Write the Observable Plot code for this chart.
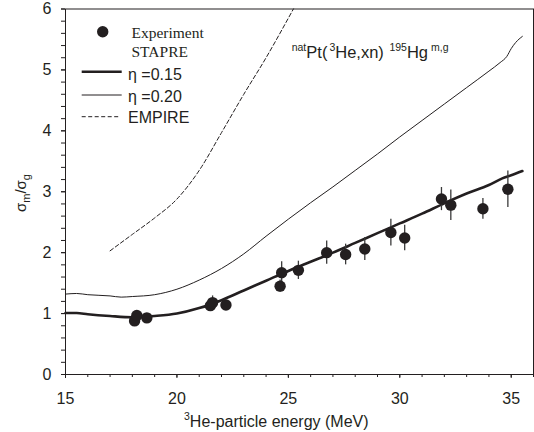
<!DOCTYPE html>
<html>
<head>
<meta charset="utf-8">
<script src="https://cdn.jsdelivr.net/npm/d3@7"></script>
<script src="https://cdn.jsdelivr.net/npm/@observablehq/plot@0.6"></script>
<style>
  html, body { margin: 0; padding: 0; background: white; }
</style>
</head>
<body>
<div id="chart"></div>
<script>
// Experimental points
const expEnergy = [18.1, 18.2, 18.65, 21.5, 21.6, 22.2, 24.63, 24.7, 25.45, 26.72, 27.57, 28.43, 29.6, 30.22, 31.87, 32.29, 33.73, 34.85];
const expRatio  = [0.88, 0.97, 0.93, 1.13, 1.18, 1.14, 1.45, 1.67, 1.71, 2.0, 1.97, 2.06, 2.33, 2.24, 2.88, 2.78, 2.72, 3.04];
const expError  = [0.05, 0.05, 0.04, 0.07, 0.11, 0.08, 0.1, 0.18, 0.15, 0.19, 0.17, 0.19, 0.22, 0.21, 0.19, 0.25, 0.17, 0.3];

// STAPRE eta = 0.15 (thick)
const stapre15E = [15, 15.5, 16, 17, 18, 19, 20, 21, 22, 23, 24, 25, 26, 27, 28, 29, 30, 31, 32, 33, 34, 34.6, 35, 35.5];
const stapre15R = [1.01, 1.01, 0.99, 0.96, 0.94, 0.96, 1.0, 1.09, 1.22, 1.38, 1.54, 1.70, 1.85, 2.0, 2.16, 2.32, 2.48, 2.64, 2.81, 2.97, 3.11, 3.22, 3.27, 3.34];

// STAPRE eta = 0.20 (thin)
const stapre20E = [15, 15.5, 16, 17, 17.5, 18, 19, 20, 21, 22, 23, 24, 25, 26, 27, 28, 29, 30, 31, 32, 33, 34, 34.5, 34.8, 35, 35.2, 35.5];
const stapre20R = [1.32, 1.33, 1.31, 1.29, 1.27, 1.28, 1.31, 1.40, 1.55, 1.74, 1.98, 2.27, 2.55, 2.82, 3.08, 3.35, 3.62, 3.90, 4.17, 4.44, 4.71, 4.98, 5.12, 5.22, 5.35, 5.45, 5.55];

// EMPIRE (dashed)
const empireE = [17, 18, 19, 20, 21, 22, 23, 24, 25, 25.3];
const empireR = [2.03, 2.30, 2.57, 2.88, 3.35, 3.97, 4.60, 5.20, 5.85, 6.05];

// Ticks
const xTicks = [15, 20, 25, 30, 35];
const xMinorTicks = [15, 16, 17, 18, 19, 20, 21, 22, 23, 24, 25, 26, 27, 28, 29, 30, 31, 32, 33, 34, 35, 36];
const yTicks = [0, 1, 2, 3, 4, 5, 6];
const yMinorTicks = [0, 0.2, 0.4, 0.6, 0.8, 1, 1.2, 1.4, 1.6, 1.8, 2, 2.2, 2.4, 2.6, 2.8, 3, 3.2, 3.4, 3.6, 3.8, 4, 4.2, 4.4, 4.6, 4.8, 5, 5.2, 5.4, 5.6, 5.8, 6];

const ink = "#231f20";

const expData = expEnergy.map((e, i) => ({e, r: expRatio[i], err: expError[i]}));
const s15 = stapre15E.map((e, i) => ({e, r: stapre15R[i]}));
const s20 = stapre20E.map((e, i) => ({e, r: stapre20R[i]}));
const emp = empireE.map((e, i) => ({e, r: empireR[i]}));

const plot = Plot.plot({
  width: 534,
  height: 432,
  marginLeft: 65,
  marginRight: 1,
  marginTop: 8.5,
  marginBottom: 58,
  x: {domain: [15, 36]},
  y: {domain: [0, 6]},
  style: {fontFamily: "'Liberation Sans', Arial, sans-serif", fontSize: "16px", color: ink, background: "white", overflow: "visible"},
  marks: [
    Plot.axisX({ticks: xMinorTicks, tickSize: 3, text: null, label: null, stroke: ink}),
    Plot.axisX({ticks: xTicks, tickSize: 4, tickPadding: 14, tickFormat: d => String(d), label: null, stroke: ink, fill: ink, fontSize: 16}),
    Plot.axisY({ticks: yMinorTicks, tickSize: 4, text: null, label: null, stroke: ink}),
    Plot.axisY({ticks: yTicks, tickSize: 4, tickPadding: 10, tickFormat: d => String(d), label: null, stroke: ink, fill: ink, fontSize: 16}),
    Plot.line(emp, {x: "e", y: "r", stroke: ink, strokeWidth: 1, strokeDasharray: "4,2.5", curve: "monotone-x", clip: true}),
    Plot.line(s20, {x: "e", y: "r", stroke: ink, strokeWidth: 1, curve: "monotone-x"}),
    Plot.line(s15, {x: "e", y: "r", stroke: ink, strokeWidth: 2.6, curve: "monotone-x"}),
    Plot.ruleX(expData, {x: "e", y1: d => d.r - d.err, y2: d => d.r + d.err, stroke: "#3a3a3a", strokeWidth: 1.3}),
    Plot.dot(expData, {x: "e", y: "r", r: 5.7, fill: ink, stroke: "none"}),
    Plot.frame({stroke: ink, strokeWidth: 1})
  ]
});

document.getElementById("chart").appendChild(plot);

const svg = d3.select(plot);
const g = svg.append("g").attr("fill", ink).attr("text-anchor", "start");

// Legend
const serif = "'Liberation Serif', 'Times New Roman', serif";
const sans = "'Liberation Sans', Arial, sans-serif";
g.append("circle").attr("cx", 102.7).attr("cy", 31.7).attr("r", 5.7).attr("fill", ink);
g.append("text").attr("x", 131.5).attr("y", 37.5).attr("font-family", serif).attr("font-size", 15.5).text("Experiment");
g.append("text").attr("x", 131.5).attr("y", 57).attr("font-family", serif).attr("font-size", 15.5).text("STAPRE");
g.append("line").attr("x1", 81.7).attr("x2", 121.7).attr("y1", 71.7).attr("y2", 71.7).attr("stroke", ink).attr("stroke-width", 2.6);
g.append("line").attr("x1", 81.7).attr("x2", 121.7).attr("y1", 95).attr("y2", 95).attr("stroke", ink).attr("stroke-width", 1);
g.append("line").attr("x1", 81.7).attr("x2", 118.3).attr("y1", 116.7).attr("y2", 116.7).attr("stroke", ink).attr("stroke-width", 1).attr("stroke-dasharray", "4,2.5");
g.append("text").attr("x", 128).attr("y", 79.5).attr("font-family", sans).attr("font-size", 16).text("\u03b7 =0.15");
g.append("text").attr("x", 128).attr("y", 102).attr("font-family", sans).attr("font-size", 16).text("\u03b7 =0.20");
g.append("text").attr("x", 128).attr("y", 123).attr("font-family", sans).attr("font-size", 16).text("EMPIRE");

// Reaction annotation
const ann = g.append("text").attr("x", 291.7).attr("y", 58.3).attr("font-family", sans).attr("font-size", 16.5);
ann.append("tspan").attr("font-size", 10.5).attr("dy", -7).text("nat");
ann.append("tspan").attr("dy", 7).text("Pt(");
ann.append("tspan").attr("font-size", 10.5).attr("dy", -7).attr("dx", 2).text("3");
ann.append("tspan").attr("dy", 7).text("He,xn) ");
ann.append("tspan").attr("font-size", 10.5).attr("dy", -7).attr("dx", 1).text("195");
ann.append("tspan").attr("dy", 7).text("Hg");
ann.append("tspan").attr("font-size", 10.5).attr("dy", -7).attr("dx", 3).text("m,g");

// X axis title
const xt = g.append("text").attr("x", 184).attr("y", 427).attr("font-family", sans).attr("font-size", 16);
xt.append("tspan").attr("font-size", 10.5).attr("dy", -7).text("3");
xt.append("tspan").attr("dy", 7).text("He-particle energy (MeV)");

// Y axis title
const yt = g.append("text").attr("transform", "translate(26,212) rotate(-90)").attr("font-family", sans).attr("font-size", 15);
yt.append("tspan").text("\u03c3");
yt.append("tspan").attr("font-size", 11).attr("dy", 4).text("m");
yt.append("tspan").attr("dy", -4).text("/\u03c3");
yt.append("tspan").attr("font-size", 11).attr("dy", 4).text("g");
</script>
</body>
</html>
